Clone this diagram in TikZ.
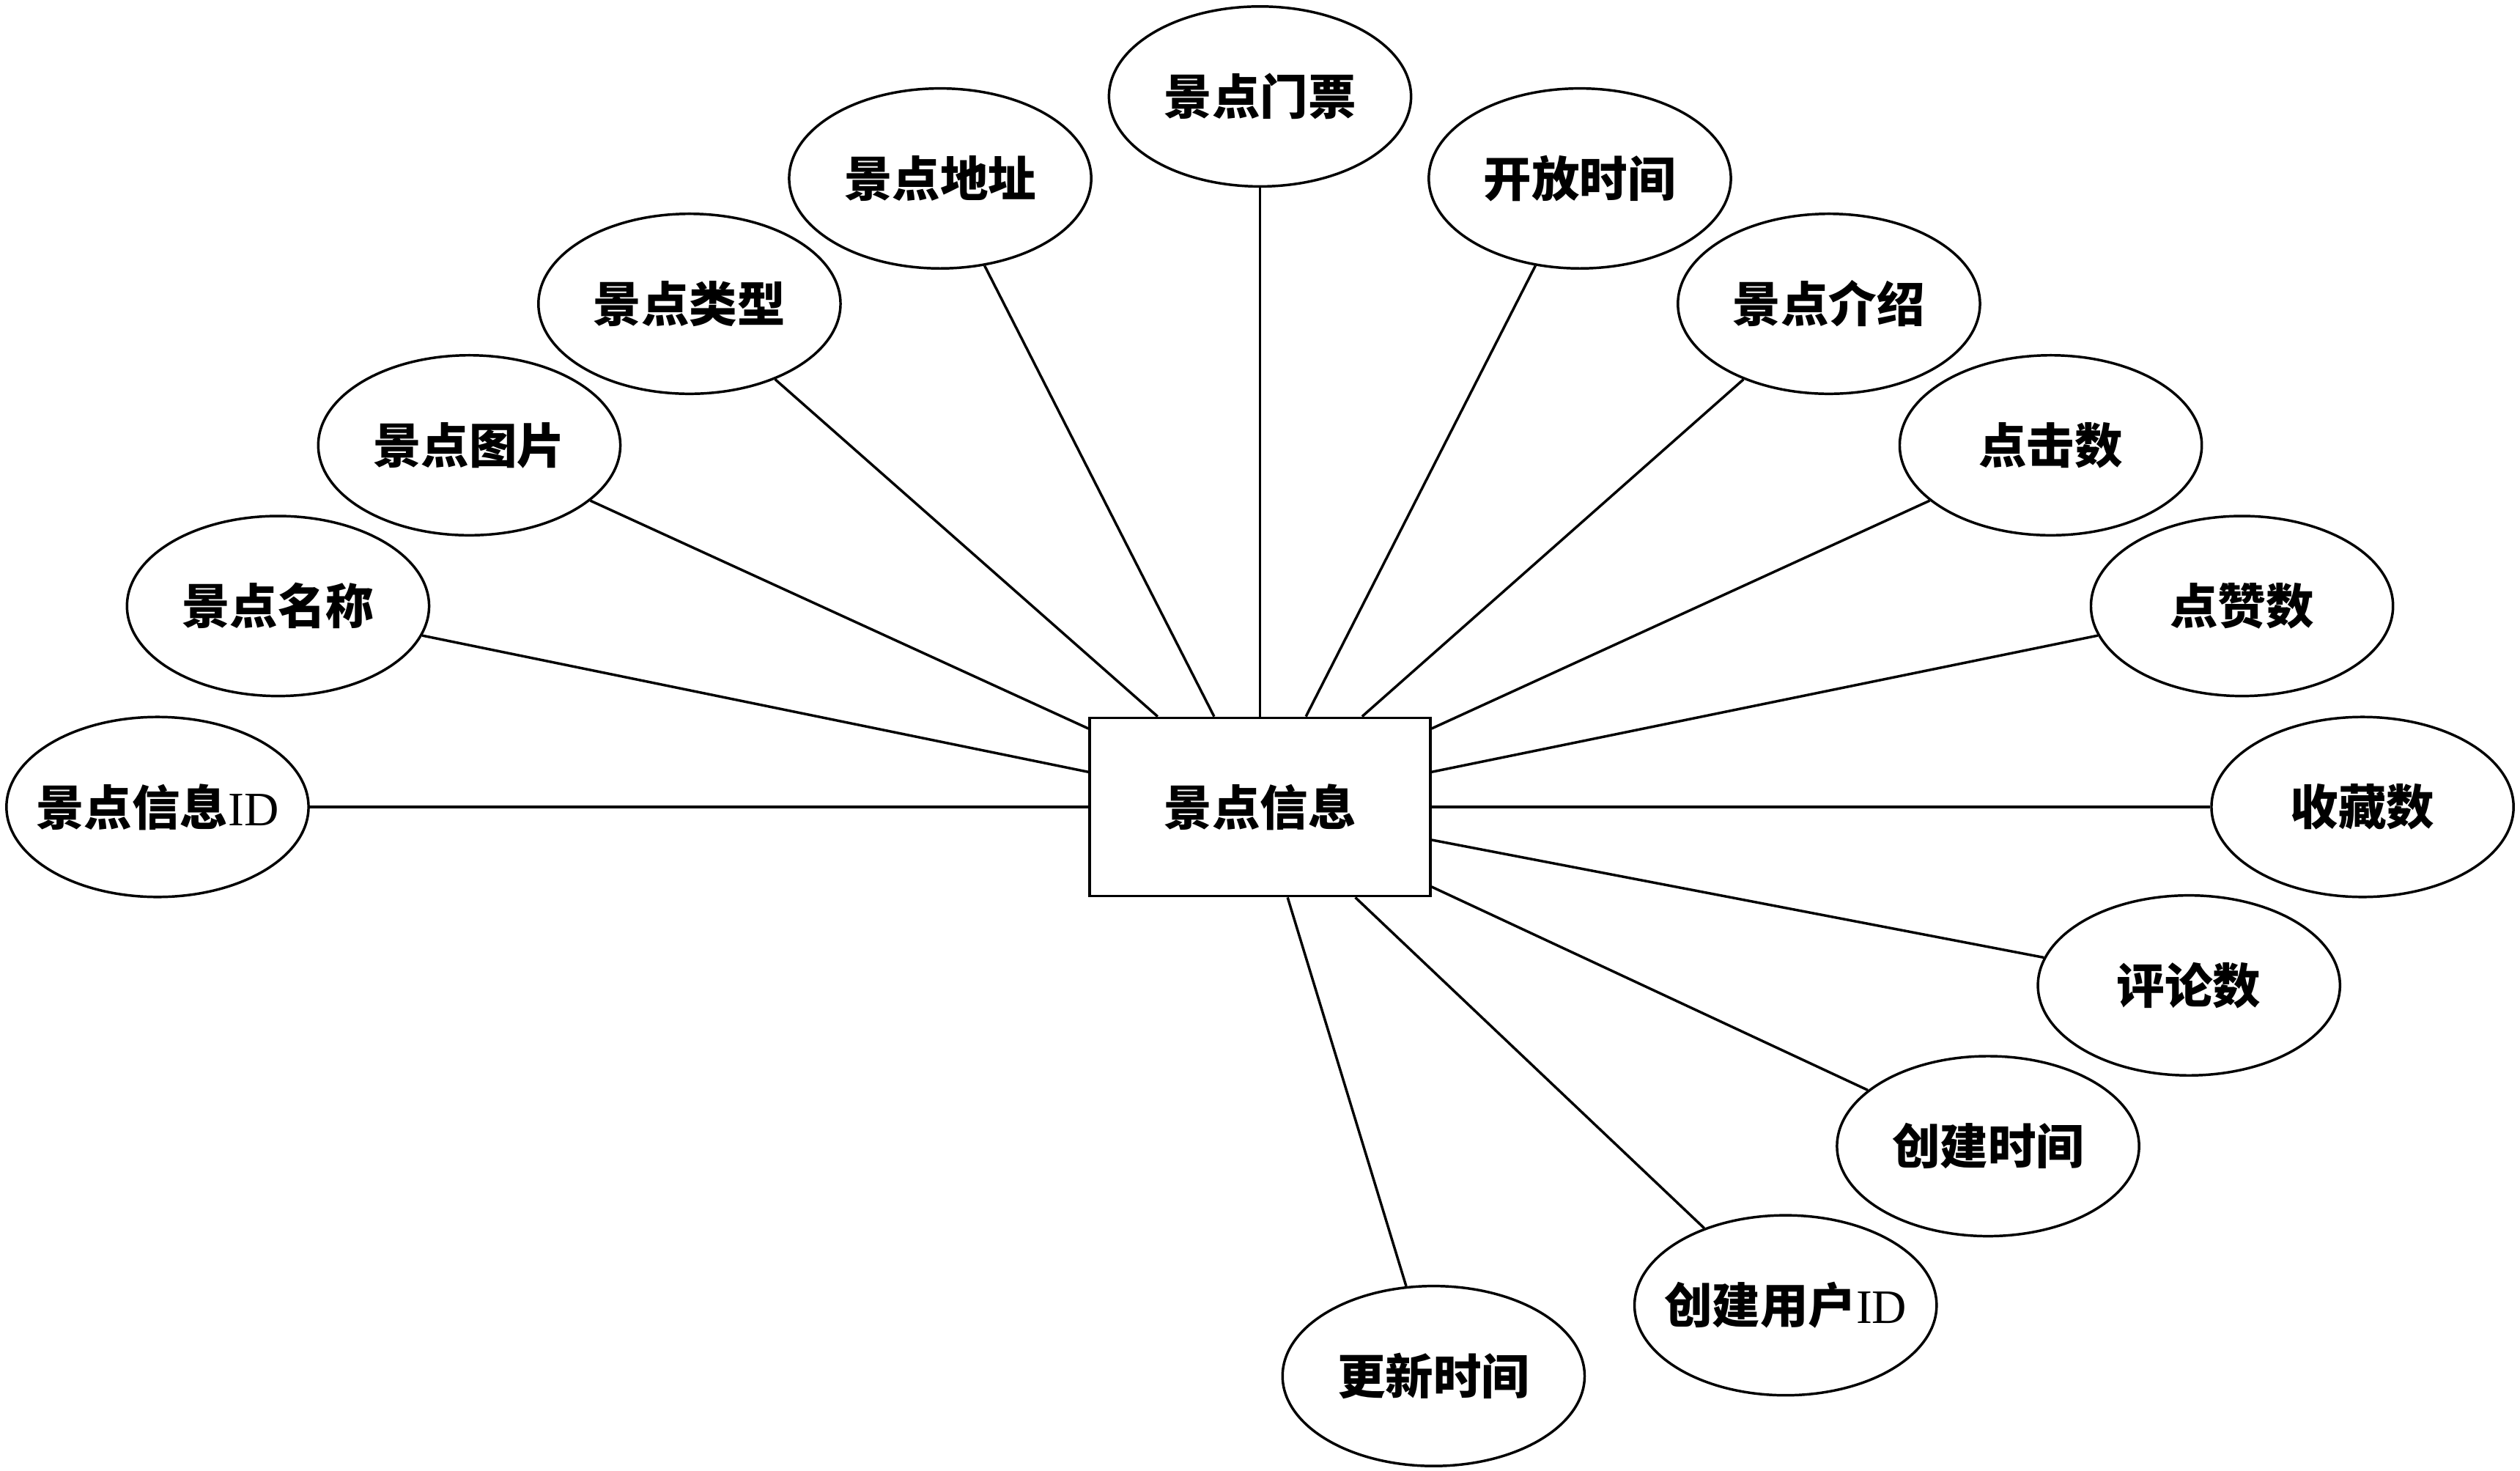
\documentclass[tikz,border=0pt]{standalone}
\usepackage{fontspec}
\setmainfont{Liberation Serif}
\newfontfamily\cjk{Noto Sans CJK SC}
\usetikzlibrary{shapes.geometric}
\begin{document}
\begin{tikzpicture}[x=0.02cm,y=-0.02cm,
  attr/.style={ellipse,draw,line width=0.9pt,minimum width=3.76cm,minimum height=2.24cm,inner sep=0pt,
    label={[font=\fontsize{17}{20}\selectfont\cjk\bfseries]center:#1}},
  ent/.style={rectangle,draw,line width=0.9pt,minimum width=4.24cm,minimum height=2.22cm,font=\fontsize{17}{20}\selectfont\cjk\bfseries},
  con/.style={line width=0.9pt}]
\useasboundingbox (0,0) rectangle (1568,915);
\node[ent] (e) at (784,502) {景点信息};
\node[attr={景点信息{\rmfamily\mdseries ID}}] (a1) at (98,502) {};
\node[attr=景点名称] (a2) at (173,377) {};
\node[attr=景点图片] (a3) at (292,277) {};
\node[attr=景点类型] (a4) at (429,189) {};
\node[attr=景点地址] (a5) at (585,111) {};
\node[attr=景点门票] (a6) at (784,60) {};
\node[attr=开放时间] (a7) at (983,111) {};
\node[attr=景点介绍] (a8) at (1138,189) {};
\node[attr=点击数] (a9) at (1276,277) {};
\node[attr=点赞数] (a10) at (1395,377) {};
\node[attr=收藏数] (a11) at (1470,502) {};
\node[attr=评论数] (a12) at (1362,613) {};
\node[attr=创建时间] (a13) at (1237,713) {};
\node[attr={创建用户{\rmfamily\mdseries ID}}] (a14) at (1111,812) {};
\node[attr=更新时间] (a15) at (892,856) {};
\foreach \i in {1,...,15} \draw[con] (e) -- (a\i);
\end{tikzpicture}
\end{document}
